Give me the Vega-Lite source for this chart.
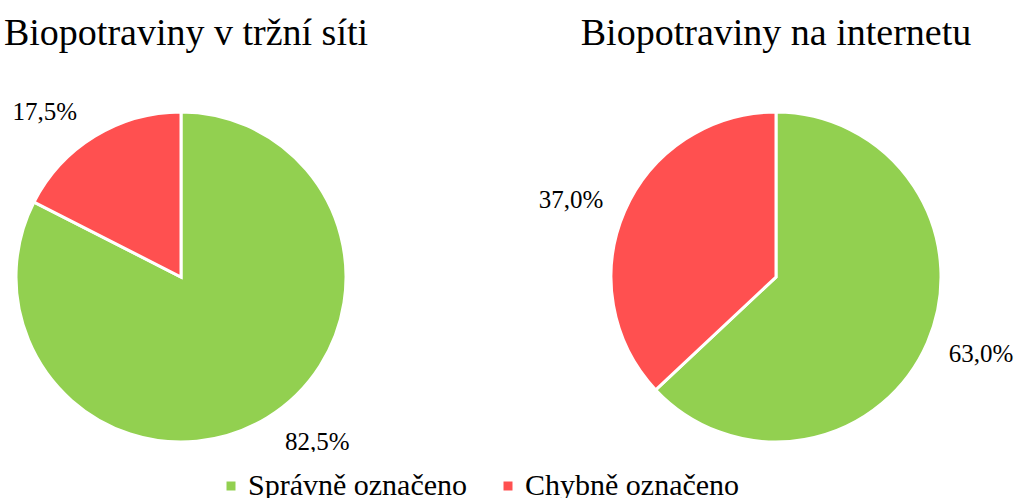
{
  "$schema": "https://vega.github.io/schema/vega-lite/v6.json",
  "padding": {"left": 0, "top": 15, "right": 0, "bottom": 0},
  "bounds": "flush",
  "datasets": {
    "trh": [
      {"kategorie": "Správně označeno", "podil": 82.5, "popisek": "82,5%", "poradi": 1},
      {"kategorie": "Chybně označeno", "podil": 17.5, "popisek": "17,5%", "poradi": 2}
    ],
    "net": [
      {"kategorie": "Správně označeno", "podil": 63.0, "popisek": "63,0%", "poradi": 1},
      {"kategorie": "Chybně označeno", "podil": 37.0, "popisek": "37,0%", "poradi": 2}
    ]
  },
  "config": {
    "view": {"stroke": null},
    "font": "Liberation Serif",
    "title": {"font": "Liberation Serif", "fontSize": 38, "fontWeight": "normal", "color": "#000000", "anchor": "middle", "offset": 49},
    "legend": {"labelFont": "Liberation Serif", "labelFontSize": 30, "labelColor": "#000000", "symbolType": "square", "symbolSize": 81, "symbolStrokeWidth": 0, "columnPadding": 25, "labelOffset": 2, "direction": "horizontal", "title": null, "labelLimit": 400}
  },
  "hconcat": [
    {
      "width": 362,
      "height": 350,
      "title": {"text": "Biopotraviny v tržní síti", "dx": 5},
      "data": {"name": "trh"},
      "encoding": {
        "theta": {"field": "podil", "type": "quantitative", "stack": true},
        "order": {"field": "poradi", "type": "quantitative"},
        "color": {"field": "kategorie", "type": "nominal", "scale": {"domain": ["Správně označeno", "Chybně označeno"], "range": ["#92D050", "#FF5050"]}, "legend": {"title": null, "orient": "none", "legendX": 216, "legendY": 369, "direction": "horizontal", "encode": {"symbols": {"update": {"fill": {"signal": "datum.value === 'Správně označeno' ? '#8EF03C' : '#FF5050'"}}}}}}
      },
      "layer": [
        {"mark": {"type": "arc", "outerRadius": 165, "stroke": "#ffffff", "strokeWidth": 3}},
        {"mark": {"type": "text", "radius": 214, "thetaOffset": -0.14, "fontSize": 25, "font": "Liberation Serif", "clip": true}, "encoding": {"text": {"field": "popisek"}, "color": {"value": "#000000"}}}
      ]
    },
    {
      "width": 490,
      "height": 350,
      "title": "Biopotraviny na internetu",
      "data": {"name": "net"},
      "encoding": {
        "theta": {"field": "podil", "type": "quantitative", "stack": true},
        "order": {"field": "poradi", "type": "quantitative"},
        "color": {"field": "kategorie", "type": "nominal", "scale": {"domain": ["Správně označeno", "Chybně označeno"], "range": ["#92D050", "#FF5050"]}, "legend": {"title": null, "orient": "none", "legendX": 216, "legendY": 369, "direction": "horizontal", "encode": {"symbols": {"update": {"fill": {"signal": "datum.value === 'Správně označeno' ? '#8EF03C' : '#FF5050'"}}}}}}
      },
      "layer": [
        {"mark": {"type": "arc", "outerRadius": 165, "stroke": "#ffffff", "strokeWidth": 3}},
        {"mark": {"type": "text", "radius": 219, "thetaOffset": -0.05, "fontSize": 25, "font": "Liberation Serif"}, "encoding": {"text": {"field": "popisek"}, "color": {"value": "#000000"}}}
      ]
    }
  ],
  "spacing": 169
}
